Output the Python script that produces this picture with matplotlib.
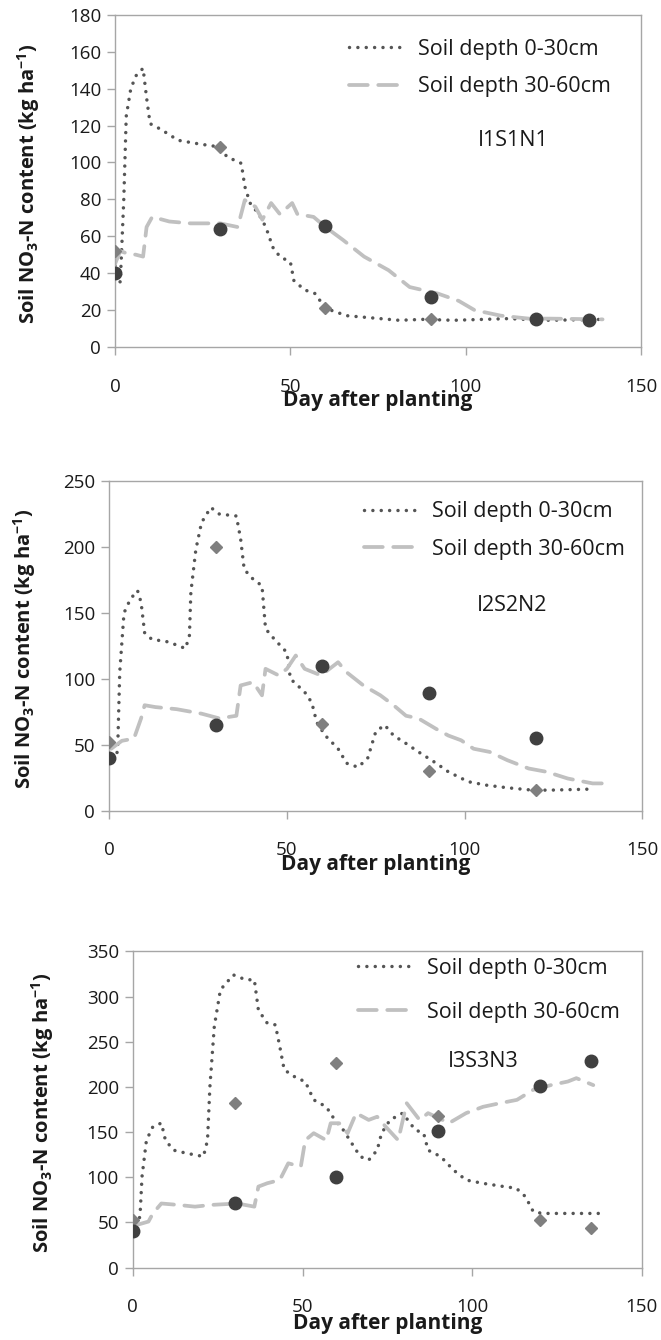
import matplotlib
matplotlib.use("Agg")
import matplotlib.pyplot as plt

plt.rcParams['font.family'] = ['Open Sans', 'DejaVu Sans']
plt.rcParams['mathtext.fontset'] = 'custom'
plt.rcParams['mathtext.rm'] = 'Open Sans'
plt.rcParams['mathtext.bf'] = 'Open Sans:bold'

LABELS = ['Soil depth 0-30cm', 'Soil depth 30-60cm']
TREATMENTS = ['I1S1N1', 'I2S2N2', 'I3S3N3']
OBS_DAYS = [0, 30, 60, 90, 120, 135]

# I1S1N1 - simulated
p1_day_0_30 = [0, 1.5, 2.5, 3.2, 4.5, 6, 8, 9, 10, 13, 18, 24, 29.4, 32, 36, 37, 38.5, 41, 43, 45,
               47, 50, 51, 54, 57, 60, 66, 72, 81, 88, 96.5, 112, 124, 139]
p1_sim_0_30 = [44, 35, 80, 125, 140, 147, 151, 135, 121, 118, 112, 110, 108.5, 103, 99.5, 87, 78, 72, 65, 54,
               49, 46, 36, 31, 29, 21, 17, 16, 14.5, 15, 14.5, 15.4, 14.5, 15]
p1_day_30_60 = [0, 1.5, 3, 6, 8, 9, 10.6, 15.5, 21.5, 30, 35, 37, 40, 42, 44.5, 47, 50.5, 52, 56.6,
                60, 65, 71, 78, 84, 92, 98, 102.5, 110, 118, 124, 139]
p1_sim_30_60 = [45, 52, 51, 50, 49, 65, 70.5, 68, 67, 67, 65, 79.6, 76, 69, 78, 72, 78, 72, 70.5,
                65, 58, 49, 41.6, 32.5, 29, 25, 20, 17, 15.4, 15.4, 15]
# I1S1N1 - observed
p1_obs_0_30 = [52, 108.5, 21, 15, 15, 14.5]
p1_obs_30_60 = [40, 64, 65.5, 27, 15, 14.5]

# I2S2N2 - simulated
p2_day_0_30 = [0.6, 2.4, 3, 4.2, 6, 8, 9, 10, 12, 16.7, 21.5, 22.6, 23, 24.4, 26, 28.6, 31, 35.8, 37, 38,
               40.5, 43, 44, 46.5, 50, 51, 55, 57, 58.4, 60.8, 64.4, 66.8, 70, 72.7, 75, 77.5, 80, 83.5,
               87, 92, 95.4, 101, 106, 112, 119, 124, 136]
p2_sim_0_30 = [39.6, 44.6, 105, 150, 160.5, 167, 158, 135, 130, 128, 123, 133, 165.6, 198, 218.5, 230, 225,
               223.5, 206, 183, 175.6, 170.6, 138, 130, 120, 100, 90, 82, 67, 57, 47, 36, 33, 39.6, 60,
               65, 57, 51, 44.6, 36, 29.5, 22, 19.4, 17.4, 15.6, 15.6, 16.4]
p2_day_30_60 = [0.6, 3.6, 7, 9, 10, 13, 19, 26, 31, 35.8, 37, 40.5, 43, 44, 47.7, 50, 52.5, 55, 59.6,
                64.4, 66.8, 71.5, 76.3, 80, 83.5, 87, 92, 95.4, 99, 102.5, 107, 112, 118, 123, 129,
                136, 139.5]
p2_sim_30_60 = [47, 53, 54.7, 70, 80, 78.6, 77, 73.6, 70, 72, 95, 97.5, 87.5, 107.6, 102.6, 107.6, 117.7,
                107.6, 102.6, 112.6, 105, 95, 87.5, 80, 72, 70, 62, 57, 53.4, 47, 44.6, 38.3, 32, 29.5,
                24.4, 20.7, 20.7]
# I2S2N2 - observed (no sample at day 135)
p2_obs_0_30 = [52, 200, 66, 30, 15.5, None]
p2_obs_30_60 = [40, 65, 110, 89, 55, None]

# I3S3N3 - simulated
p3_day_0_30 = [0.9, 2.1, 2.7, 4, 5.9, 8.4, 9.6, 12, 15.8, 20.8, 22, 22.7, 24, 25.8, 29.6, 33.3, 35.8, 37,
               39.6, 42, 43.3, 44.6, 48.3, 50.8, 53.3, 57, 59.5, 62, 64.5, 67, 69.5, 72, 73.3, 75.8,
               79.5, 83.2, 85.7, 87, 90.7, 94.5, 98.2, 103, 109.4, 113, 115.7, 118, 120.7, 138]
p3_sim_0_30 = [47, 56.5, 100.8, 141, 156, 160, 141, 130, 126.6, 123, 141, 200, 267, 307.5, 324, 318.6,
               318.6, 285, 270.6, 268.7, 244.7, 219, 209.7, 206, 185.7, 178, 163.5, 152.5, 137.7, 123,
               119, 130, 148.8, 163.5, 171, 152.5, 148.8, 130, 123, 108, 97, 93.4, 89.7, 87.9, 78.6,
               62, 60, 60]
p3_day_30_60 = [0.9, 4.6, 5.9, 8.4, 13.4, 18.3, 23, 30.8, 35.8, 37, 39.6, 43.3, 45.8, 49.5, 50.8, 53.3,
                57, 58.3, 60.8, 63.3, 65.8, 69.5, 72, 74.5, 78.2, 80.7, 84.5, 87, 93.2, 98.2, 103.2,
                108.2, 113.2, 118, 123.2, 128.2, 130.7, 135.7]
p3_sim_30_60 = [47, 51, 60, 71, 69.4, 67.5, 69.4, 71, 67.5, 89.7, 93.4, 97, 115.5, 111.8, 141, 148.8,
                141, 159.8, 159.8, 148.8, 171, 163.5, 167, 156, 141, 182, 163.5, 171, 160, 171, 178,
                182, 185.7, 196.8, 202, 206, 209.7, 202]
# I3S3N3 - observed
p3_obs_0_30 = [53, 182, 227, 168, 53, 44]
p3_obs_30_60 = [40, 72, 100, 151, 201, 229]

panels = [
    dict(d1=p1_day_0_30, s1=p1_sim_0_30, d2=p1_day_30_60, s2=p1_sim_30_60,
         o1=p1_obs_0_30, o2=p1_obs_30_60, ymax=180, ystep=20,
         rect=[0.174, 0.741, 0.796, 0.248], leg=(0.445, 0.84), lspace=0.78,
         txt=(0.757, 0.623), xl=-0.13, yl=-0.165),
    dict(d1=p2_day_0_30, s1=p2_sim_0_30, d2=p2_day_30_60, s2=p2_sim_30_60,
         o1=p2_obs_0_30, o2=p2_obs_30_60, ymax=250, ystep=50,
         rect=[0.165, 0.395, 0.807, 0.246], leg=(0.477, 0.85), lspace=0.78,
         txt=(0.756, 0.621), xl=-0.13, yl=-0.158),
    dict(d1=p3_day_0_30, s1=p3_sim_0_30, d2=p3_day_30_60, s2=p3_sim_30_60,
         o1=p3_obs_0_30, o2=p3_obs_30_60, ymax=350, ystep=50,
         rect=[0.201, 0.054, 0.770, 0.236], leg=(0.442, 0.877), lspace=1.08,
         txt=(0.688, 0.652), xl=-0.145, yl=-0.178),
]

fig = plt.figure(figsize=(6.61, 13.4), dpi=100)
frame = '#a6a6a6'

for i, p in enumerate(panels):
    ax = fig.add_axes(p['rect'])
    ax.plot(p['d1'], p['s1'], color='#555555', lw=2.5, dashes=(0.01, 2.4),
            dash_capstyle='round', label=LABELS[0], zorder=2)
    ax.plot(p['d2'], p['s2'], color='#c0c0c0', lw=2.7, dashes=(5, 2.8),
            dash_capstyle='round', label=LABELS[1], zorder=2)

    xd = [d for d, v in zip(OBS_DAYS, p['o1']) if v is not None]
    yd = [v for v in p['o1'] if v is not None]
    ax.plot(xd, yd, 'D', color='#7f7f7f', ms=6.5, mec='#7f7f7f', zorder=3)
    xc = [d for d, v in zip(OBS_DAYS, p['o2']) if v is not None]
    yc = [v for v in p['o2'] if v is not None]
    ax.plot(xc, yc, 'o', color='#404040', ms=9, mec='#404040', zorder=4)

    ax.set_xlim(0, 150)
    ax.set_ylim(0, p['ymax'])
    ax.set_xticks([0, 50, 100, 150])
    ax.set_yticks(range(0, p['ymax'] + 1, p['ystep']))
    for s in ax.spines.values():
        s.set_color(frame)
        s.set_linewidth(1.0)
    ax.tick_params(axis='both', colors=frame, labelcolor='#1a1a1a', labelsize=13.5,
                   length=6, width=1.0, direction='out')
    ax.tick_params(axis='x', pad=16)
    ax.tick_params(axis='y', pad=4)

    ax.set_xlabel('Day after planting', fontsize=15, fontweight='bold', color='#1a1a1a', va='top')
    ax.xaxis.set_label_coords(0.5, p['xl'])
    ax.set_ylabel(r'Soil NO$_{\mathbf{3}}$-N content (kg ha$^{\mathbf{-1}}$)', fontsize=14.5,
                  fontweight='bold', color='#1a1a1a', va='center')
    ax.yaxis.set_label_coords(p['yl'], 0.49)

    ax.legend(loc='center left', bbox_to_anchor=p['leg'], frameon=False, fontsize=15.5,
              handlelength=2.7, handletextpad=0.5, labelspacing=p['lspace'],
              borderaxespad=0, borderpad=0, labelcolor='#1a1a1a')
    ax.text(p['txt'][0], p['txt'][1], TREATMENTS[i], transform=ax.transAxes,
            fontsize=15.5, ha='center', va='center', color='#1a1a1a')

fig.savefig('out.png', dpi=100)
